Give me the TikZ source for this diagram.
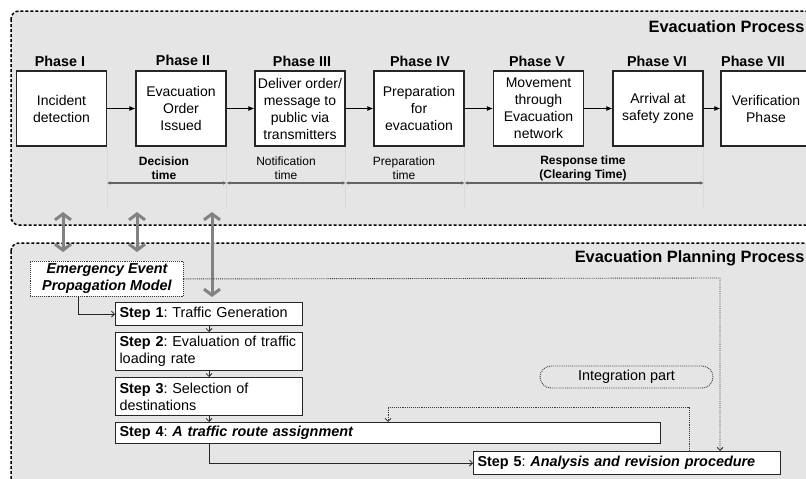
\documentclass[tikz,border=0pt]{standalone}
\usepackage{fontspec}
\setmainfont{Liberation Sans}
\usetikzlibrary{arrows.meta,calc}
\frenchspacing
\definecolor{panelgray}{RGB}{229,229,229}
\definecolor{arrgray}{RGB}{130,130,130}
\definecolor{tlgray}{RGB}{100,100,100}
\definecolor{dotgray}{RGB}{60,60,60}
\tikzset{
  panel/.style={draw=black, fill=panelgray, line width=1.5pt, dash pattern=on 3pt off 2pt, rounded corners=8pt},
  phasebox/.style={draw=black!85, fill=white, line width=1.2pt, minimum width=90pt, minimum height=75pt, align=center, inner sep=2pt, font=\fontsize{14}{17}\selectfont},
  phaselbl/.style={font=\bfseries\fontsize{14.3}{17}\selectfont},
  tllbl/.style={align=center, font=\fontsize{12}{14}\selectfont},
  stepbox/.style={draw=black!85, fill=white, line width=1.1pt, anchor=north west, align=left, inner xsep=4pt, inner ysep=1pt, font=\fontsize{14.4}{17}\selectfont},
  flow/.style={-{Latex[length=6pt,width=5pt]}, line width=0.9pt},
  thin arr/.style={-{Straight Barb[length=3pt,width=6pt]}, line width=0.8pt, black!85},
  dotarr/.style={-{Straight Barb[length=3pt,width=6pt]}, line width=0.9pt, dotgray, densely dotted},
  tick/.style={draw=black!15, line width=0.5pt},
  tl/.style={{Latex[length=3.5pt,width=3.5pt]}-{Latex[length=3.5pt,width=3.5pt]}, tlgray, line width=1.2pt},
  dbl/.style={{Straight Barb[length=6pt,width=16pt]}-{Straight Barb[length=6pt,width=16pt]}, arrgray, line width=3pt},
}
\begin{document}
\begin{tikzpicture}[x=1pt,y=-1pt]
\useasboundingbox (0,0) rectangle (806,479);
\fill[white] (0,0) rectangle (806,479);

% the two process panels
\path[panel] (11,11) rectangle (840,225);
\path[panel] (11,243) rectangle (840,495);

\node[anchor=east, font=\bfseries\fontsize{16.4}{19}\selectfont] (ttop) at (808,27) {Evacuation Process};
\node[anchor=east, font=\bfseries\fontsize{16.4}{19}\selectfont] (tbot) at (808,258) {Evacuation Planning Process};

% phases
\node[phasebox] (b1) at (61.5,108.5) {Incident\\detection};
\node[phasebox] (b2) at (181,108.5) {Evacuation\\Order\\Issued};
\node[phasebox] (b3) at (300,108.5) {Deliver order/\\message to\\public via\\transmitters};
\node[phasebox] (b4) at (419,108.5) {Preparation\\for\\evacuation};
\node[phasebox] (b5) at (538.5,108.5) {Movement\\through\\Evacuation\\network};
\node[phasebox] (b6) at (658,108.5) {Arrival at\\safety zone};
\node[phasebox] (b7) at (766,108.5) {Verification\\Phase};

\node[phaselbl] (p1) at (60,61) {Phase I};
\node[phaselbl] (p2) at (183,60) {Phase II};
\node[phaselbl] (p3) at (302,61) {Phase III};
\node[phaselbl] (p4) at (420,61) {Phase IV};
\node[phaselbl] (p5) at (537,61) {Phase V};
\node[phaselbl] (p6) at (657,61) {Phase VI};
\node[phaselbl] (p7) at (753,61) {Phase VII};

\foreach \a/\b in {b1/b2,b2/b3,b3/b4,b4/b5,b5/b6,b6/b7}
  \draw[flow] (\a.east) -- (\b.west);

% time line
\foreach \b in {b1,b2,b3,b4,b6}
  \draw[tick] (\b.south east) -- ++(0,61);
\coordinate (tly) at (0,183);
\draw[tl] (b1.east |- tly) -- (b2.east |- tly);
\draw[tl] (b2.east |- tly) -- (b3.east |- tly);
\draw[tl] (b3.east |- tly) -- (b4.east |- tly);
\draw[tl] (b4.east |- tly) -- (b6.east |- tly);
\node[tllbl, font=\bfseries\fontsize{12}{14}\selectfont] (l1) at (164,168) {Decision\\time};
\node[tllbl] (l2) at (286,168) {Notification\\time};
\node[tllbl] (l3) at (404,168) {Preparation\\time};
\node[tllbl, font=\bfseries\fontsize{12}{14}\selectfont] (l4) at (583,168) {Response time\\(Clearing Time)};

% links between the two processes
\coordinate (u1) at (63,212); \coordinate (d1) at (63,252);
\coordinate (u2) at (137,212); \coordinate (d2) at (137,252);
\coordinate (u3) at (212,212); \coordinate (d3) at (212,297);
\draw[dbl] (u1) -- (d1);
\draw[dbl] (u2) -- (d2);
\draw[dbl] (u3) -- (d3);

% planning process
\node[draw=dotgray, densely dotted, line width=0.9pt, fill=white, anchor=north west,
      minimum width=153pt, minimum height=35pt, inner sep=1pt, align=center,
      font=\bfseries\itshape\fontsize{14.4}{17}\selectfont] (em) at (30,261) {Emergency Event\\Propagation Model};

\node[stepbox, text width=179pt, minimum height=23pt] (s1) at (115,302) {\textbf{Step 1}: Traffic Generation};
\node[stepbox, text width=179pt, minimum height=38pt] (s2) at (115,332) {\textbf{Step 2}: Evaluation of traffic\\loading rate};
\node[stepbox, text width=179pt, minimum height=38pt] (s3) at (115,377) {\textbf{Step 3}: Selection of\\destinations};
\node[stepbox, text width=537pt, minimum height=21pt] (s4) at (115,422) {\textbf{Step 4}: \textbf{\itshape A traffic route assignment}};
\node[stepbox, text width=299pt, minimum height=23pt] (s5) at (473,451) {\textbf{Step 5}: \textbf{\itshape Analysis and revision procedure}};

\node[draw=dotgray, densely dotted, line width=0.9pt, rounded corners=11pt,
      minimum width=173pt, minimum height=22pt, font=\fontsize{14.4}{17}\selectfont] (ip) at (626.5,377) {Integration part};

\draw[thin arr] ([xshift=48pt]em.south west) |- (s1.west);
\draw[thin arr] (s1.south) -- (s2.north);
\draw[thin arr] (s2.south) -- (s3.north);
\draw[thin arr] (s3.south) -- (s4.north -| s3.south);
\draw[thin arr] (s3.south |- s4.south) |- (s5.west);

\coordinate (c1) at (720,278);
\draw[dotarr] (em.east) -- (c1) -- (c1 |- s5.north);
\coordinate (c2) at (689,407);
\draw[dotarr] (c2 |- s5.north) -- (c2) -| (s4.north);
\end{tikzpicture}
\end{document}
